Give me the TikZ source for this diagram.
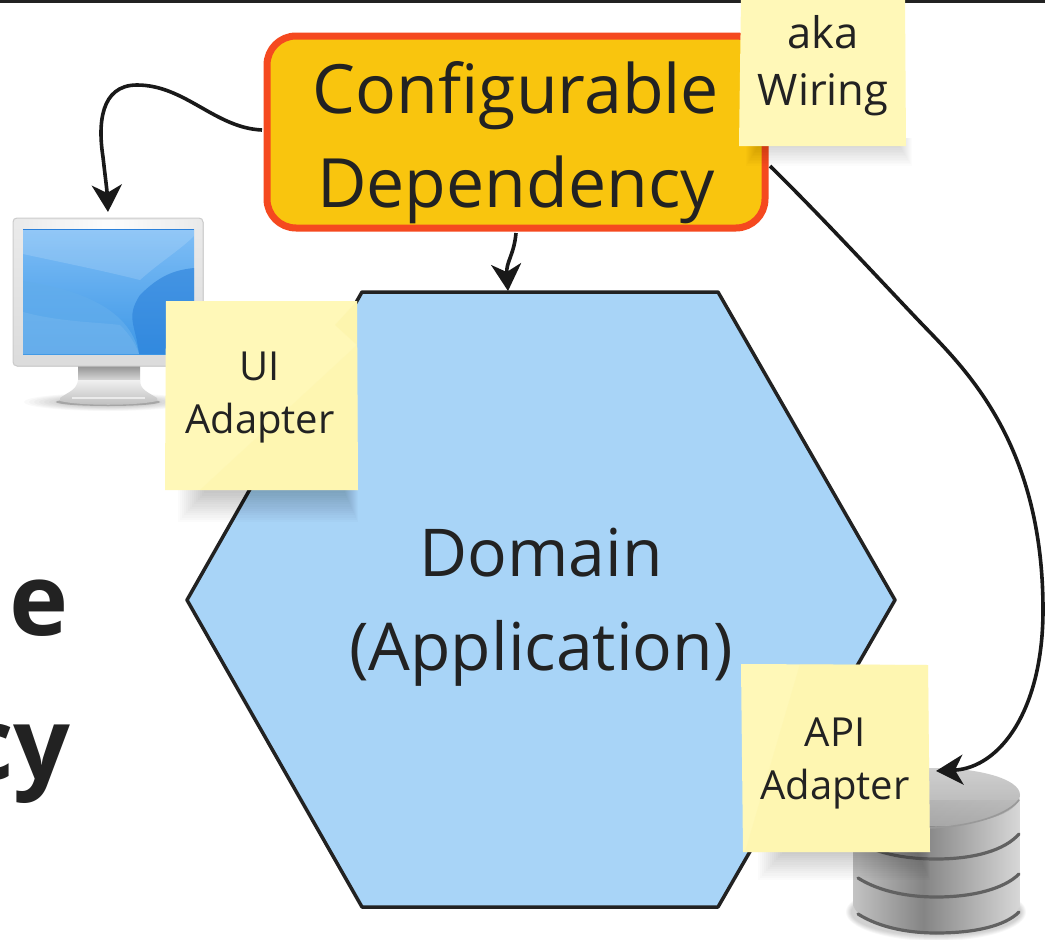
\documentclass[tikz,border=0pt]{standalone}
\usepackage{fontspec}
\setmainfont{Open Sans}
\usetikzlibrary{arrows.meta}
\definecolor{hexfill}{HTML}{A8D4F7}
\definecolor{ink}{HTML}{222222}
\definecolor{sticky}{HTML}{FFF8B8}
\definecolor{stickyb}{HTML}{FDF3A6}
\definecolor{cfgfill}{HTML}{F9C50E}
\definecolor{cfgline}{HTML}{F5491F}
\definecolor{scrtop}{HTML}{7FBEF6}
\definecolor{scrbot}{HTML}{3D97E6}
\definecolor{scrdark}{HTML}{2A80DA}
\definecolor{scrlite}{HTML}{62ADEC}
\pgfdeclarehorizontalshading{dbband}{100bp}{color(0bp)=(black!45); color(22bp)=(black!20); color(46bp)=(black!48); color(60bp)=(black!32); color(80bp)=(black!10); color(100bp)=(black!42)}
\tikzset{
  conn/.style={draw=black!90,line width=3.6pt,-{Stealth[length=27pt,width=30pt,inset=8pt]}},
  hexshape/.style={fill=hexfill,draw=ink,line width=3.5pt,line join=round},
  cfgbox/.style={rectangle,rounded corners=29pt,fill=cfgfill,draw=cfgline,line width=7pt,minimum width=498pt,minimum height=192pt,inner sep=0pt},
  bigtext/.style={align=center,text=ink,font=\fontsize{66}{94}\selectfont},
  notetext/.style={align=center,text=ink,font=\fontsize{40}{53}\selectfont},
  sidetext/.style={anchor=base east,text=ink,font=\fontsize{100}{120}\selectfont\bfseries},
  sep/.style={draw=black!62,line width=3.2pt,line cap=round}
}
\begin{document}
\begin{tikzpicture}[x=1pt,y=-1pt]
\useasboundingbox (0,0) rectangle (1045,940);
\clip (0,0) rectangle (1045,940);
\fill[white] (0,0) rectangle (1045,940);
\fill[ink] (0,0) rectangle (1045,2.5);

% side text, cut by the page edge
\node[sidetext] (sidea) at (72,635) {l\kern7pt e};
\node[sidetext] (sideb) at (74,779) {cy};

% monitor
\foreach \i in {0,...,7}{
  \fill[black,opacity=.025] (108,402) ellipse ({84-5*\i} and {9-\i*.6});
}
\fill[black!55,opacity=.45] (108,402) ellipse (52 and 4);
\shade[top color=black!42,bottom color=black!8] (78,366) rectangle (140,384);
\shade[top color=black!6,bottom color=black!26] (78,380) .. controls (77,390) and (68,392) .. (60,398) -- (60,401) .. controls (80,406) and (136,406) .. (157,401) -- (157,398) .. controls (148,392) and (140,390) .. (140,380) -- cycle;
\fill[white,opacity=.6] (72,397) rectangle (145,399);
\filldraw[draw=black!20,line width=1pt,rounded corners=4pt,top color=black!8,bottom color=black!14] (13,218) rectangle (203,366);
\shade[left color=black!8,right color=black!8,middle color=white,opacity=.9] (15,220) rectangle (201,228);
\begin{scope}
\clip (23,229) rectangle (194,354);
\shade[top color=scrtop,bottom color=scrbot] (23,229) rectangle (194,354);
% dark right wedge
\fill[scrdark,opacity=.6] (194,268) -- (194,354) -- (139,354) .. controls (136,325) and (125,318) .. (140,295) .. controls (160,275) and (175,270) .. (194,268) -- cycle;
% light top band
\fill[white,opacity=.15] (23,229) -- (194,229) -- (194,236) .. controls (180,250) and (160,262) .. (140,280) .. controls (100,270) and (60,262) .. (23,254) -- cycle;
% light lower wave
\fill[scrlite,opacity=.75] (23,281) .. controls (70,288) and (130,305) .. (139,354) -- (23,354) -- cycle;
\fill[white,opacity=.08] (23,312) .. controls (60,322) and (95,322) .. (120,325) .. controls (130,335) and (136,345) .. (139,354) -- (23,354) -- cycle;
\end{scope}
\draw[scrdark,line width=1pt] (23,229.5) -- (194,229.5);

% hexagon
\coordinate (hnw) at (362,292);
\coordinate (hne) at (718,292);
\coordinate (he) at (895,600);
\coordinate (hse) at (718,907);
\coordinate (hsw) at (362,907);
\coordinate (hw) at (187,600);
\path[hexshape] (hnw) -- (hne) -- (he) -- (hse) -- (hsw) -- (hw) -- cycle;
\node[bigtext] (domain) at (541,607) {Domain\\(Application)};

% database
\coordinate (dbtop) at (936,771);
\foreach \i in {0,...,5}{
  \fill[black,opacity=.03] (936,912) ellipse ({85+\i} and {24+\i});
}
\shade[shading=dbband] (853,800) -- (853,905) .. controls (860,925) and (900,934) .. (936,934) .. controls (975,934) and (1012,925) .. (1020,905) -- (1020,800) -- cycle;
\fill[white,opacity=.45] (853,795) .. controls (853,778) and (900,768) .. (936,768) .. controls (975,768) and (1020,778) .. (1020,795) .. controls (1020,815) and (975,826) .. (936,826) .. controls (900,826) and (853,815) .. (853,795) -- cycle;
\shade[top color=black!22,bottom color=black!36,opacity=.85] (853,795) .. controls (853,778) and (900,768) .. (936,768) .. controls (975,768) and (1020,778) .. (1020,795) .. controls (1020,815) and (975,826) .. (936,826) .. controls (900,826) and (853,815) .. (853,795) -- cycle;
\path[sep,draw=black!40,line width=1.6pt] (925,828) .. controls (960,828) and (1005,818) .. (1019,800);
\path[sep] (858,842) .. controls (880,855) and (910,859) .. (936,859) .. controls (975,859) and (1005,850) .. (1019,834);
\path[sep] (858,878) .. controls (880,892) and (910,897) .. (936,897) .. controls (975,897) and (1005,888) .. (1019,874);
\path[sep] (858,914) .. controls (880,928) and (910,933) .. (936,933) .. controls (975,933) and (1005,926) .. (1019,912);

% configurable dependency
\node[cfgbox] (cfg) at (516,132) {};
\node[bigtext,font=\fontsize{68}{94}\selectfont] (cfgtext) at (516,143) {Configurable\\Dependency};

% connectors
\coordinate (monitortop) at (108,212);
\coordinate (cfgleft) at (262,130);
\coordinate (cfgright) at (770,166);
\coordinate (depfoot) at (516,233);
\coordinate (hextop) at (508,291);
\draw[conn] (cfgleft) .. controls (215,128) and (185,85) .. (137,85) .. controls (100,85) and (98,125) .. (103,157) .. controls (105,175) and (107,190) .. (monitortop);
\draw[conn] (depfoot) .. controls (514,255) and (506,262) .. (hextop);
\draw[conn] (cfgright) .. controls (820,215) and (880,280) .. (920,322) .. controls (962,366) and (1043,440) .. (1043,610) .. controls (1043,710) and (1000,768) .. (dbtop);

% shadows of the notes
\foreach \i in {0,...,13}{
  \fill[black,opacity=.016] (178+2*\i,484) rectangle (358-\i,522-2.2*\i);
  \fill[black,opacity=.016] (758+2*\i,844) rectangle (930-\i,880-2.2*\i);
  \fill[black,opacity=.013] (746+\i,138) rectangle (912-\i,166-1.6*\i);
}

% notes
\fill[sticky] (166,301) -- (357,301) -- (358,490) -- (165,490) -- cycle;
\fill[stickyb,opacity=.5] (357,301) -- (357,345) -- (335,325) -- cycle;
\fill[stickyb,opacity=.35] (357,345) -- (200,490) -- (358,490) -- cycle;
\node[notetext] (ui) at (260,398) {UI\\Adapter};
\fill[sticky] (741,664) -- (928,665) -- (930,852) -- (743,852) -- cycle;
\fill[stickyb,opacity=.35] (800,664) -- (928,665) -- (930,852) -- (745,852) -- cycle;
\node[notetext] (api) at (835,763) {API\\Adapter};
\fill[sticky] (741,-2) -- (905,-2) -- (906,146) -- (739,146) -- cycle;
\node[notetext,font=\fontsize{43.5}{57}\selectfont] (aka) at (823,66) {aka\\Wiring};
\end{tikzpicture}
\end{document}
